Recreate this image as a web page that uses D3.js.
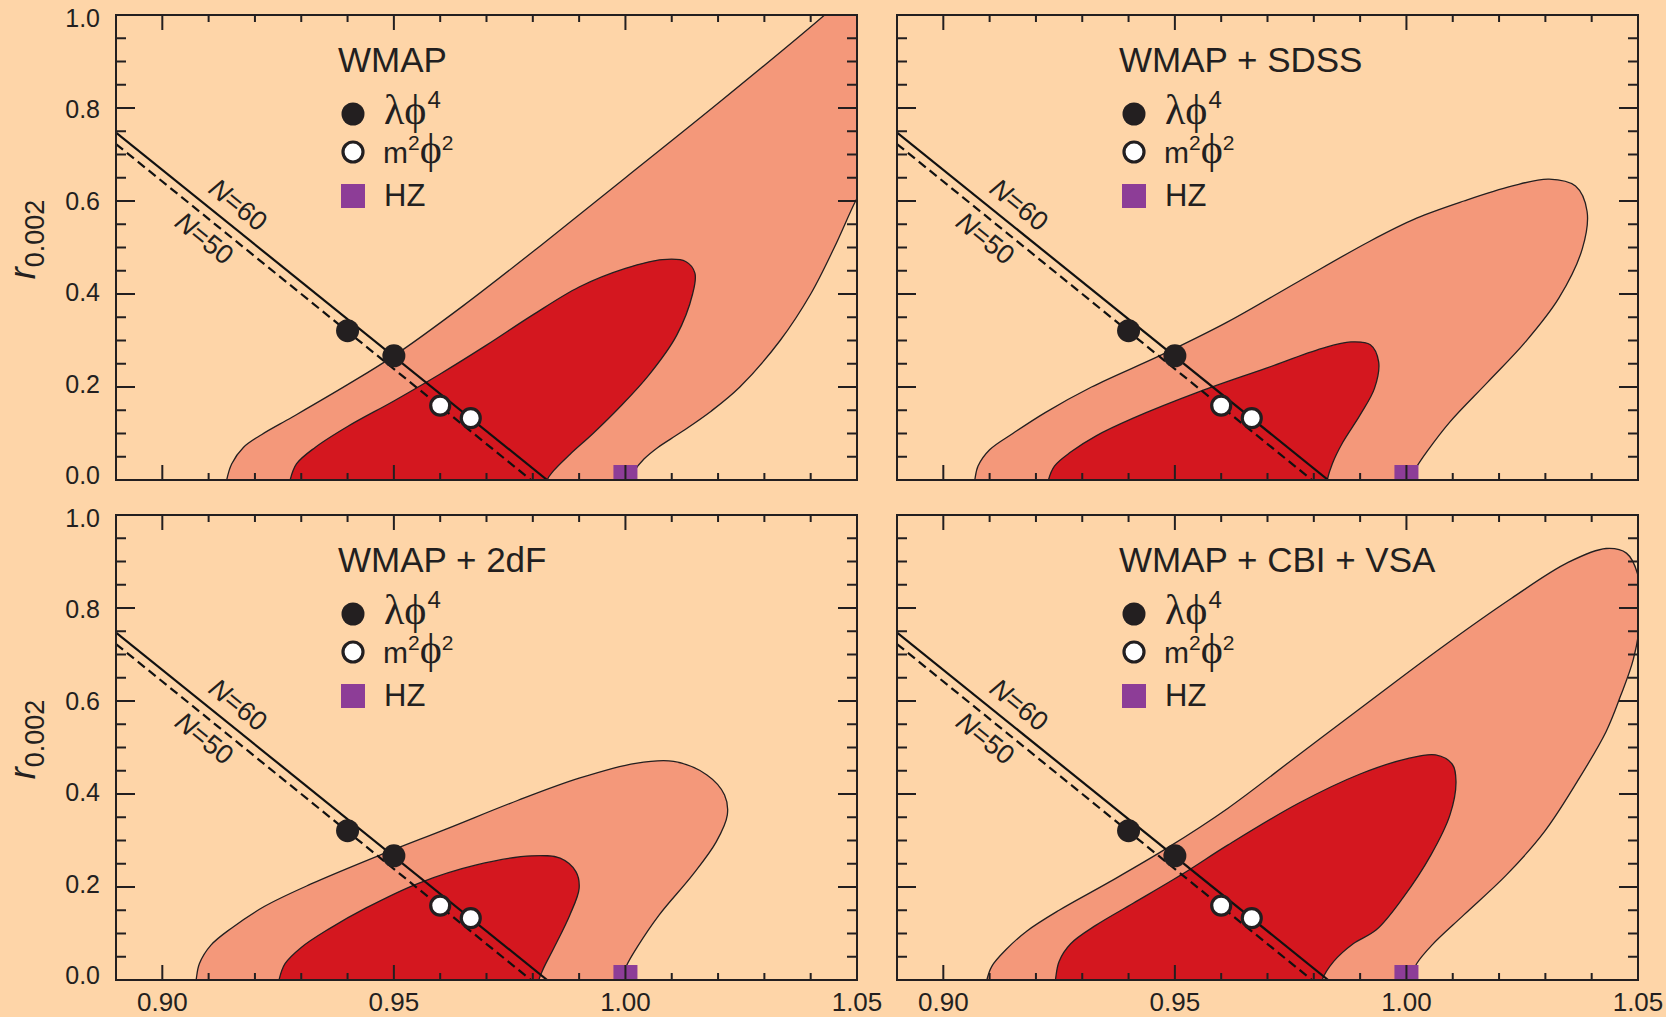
<!DOCTYPE html>
<html><head><meta charset="utf-8">
<script src="https://cdn.jsdelivr.net/npm/d3@7"></script>
<style>html,body{margin:0;padding:0;background:#FED5A8;} svg{display:block;}</style>
</head><body><svg id="c" width="1666" height="1017"></svg>
<script>
// ---------------- data ----------------
const titles = ['WMAP', 'WMAP + SDSS', 'WMAP + 2dF', 'WMAP + CBI + VSA'];
const xTickValues = [0.90, 0.95, 1.00, 1.05];
const xTickLabels = ['0.90', '0.95', '1.00', '1.05'];
const yTickValues = [0, 0.2, 0.4, 0.6, 0.8, 1.0];
const yTickLabels = ['0.0', '0.2', '0.4', '0.6', '0.8', '1.0'];
const lambdaPhi4 = [[0.940, 0.321], [0.950, 0.267]];
const m2Phi2 = [[0.960, 0.160], [0.9666, 0.133]];
const hzPoint = [1.000, 0];
const lineN60 = [[0.89, 0.747], [0.9831, 0]];
const lineN50 = [[0.89, 0.7226], [0.9796, 0]];
const labelN60 = [0.9161, 0.588];
const labelN50 = [0.9088, 0.516];

// 95% (outer) and 68% (inner) contours, [n_s, r]
const wmap95 = [[0.9139,0],[0.9150,0.035],[0.9175,0.070],[0.9215,0.098],[0.9280,0.135],[0.9400,0.205],
  [0.9500,0.267],[0.9650,0.375],[0.9818,0.505],[1.0000,0.650],[1.0200,0.810],[1.0430,1.000],
  [1.0480,1.045],[1.0600,1.060],[1.0600,0.720],[1.0525,0.650],
  [1.0497,0.600],[1.0451,0.500],[1.0400,0.400],[1.0334,0.300],[1.0247,0.200],[1.0185,0.148],[1.0119,0.102],
  [1.0070,0.070],[1.0040,0.045],[1.0020,0.020],[1.0012,0]];
const wmap68 = [[0.9276,0],[0.9290,0.035],[0.9330,0.070],[0.9400,0.115],[0.9500,0.170],[0.9600,0.228],
  [0.9700,0.290],[0.9800,0.355],[0.9900,0.415],[1.0000,0.455],[1.0080,0.474],[1.0130,0.470],[1.0150,0.445],
  [1.0145,0.400],[1.0110,0.310],[1.0050,0.225],[0.9989,0.158],[0.9930,0.100],[0.9880,0.055],[0.9845,0.020],
  [0.9831,0]];
const sdss95 = [[0.9068,0],[0.9075,0.030],[0.9100,0.065],[0.9150,0.100],[0.9220,0.145],[0.9320,0.200],
  [0.9471,0.269],[0.9614,0.340],[0.9767,0.427],[0.9920,0.513],[1.0022,0.563],[1.0124,0.600],[1.0227,0.632],
  [1.0308,0.647],[1.0365,0.632],[1.0390,0.578],[1.0380,0.498],[1.0329,0.391],[1.0257,0.297],[1.0176,0.211],
  [1.0094,0.125],[1.0045,0.062],[1.0020,0.025],[1.0007,0]];
const sdss68 = [[0.9227,0],[0.9240,0.030],[0.9275,0.060],[0.9330,0.095],[0.9410,0.133],[0.9553,0.190],
  [0.9696,0.240],[0.9818,0.283],[0.9880,0.297],[0.9922,0.291],[0.9940,0.254],[0.9931,0.197],[0.9900,0.140],
  [0.9862,0.080],[0.9840,0.035],[0.9829,0]];
const twodf95 = [[0.9073,0],[0.9080,0.035],[0.9105,0.075],[0.9150,0.112],[0.9220,0.158],[0.9320,0.206],
  [0.9471,0.269],[0.9614,0.325],[0.9767,0.386],[0.9900,0.434],[1.0022,0.466],[1.0104,0.470],[1.0176,0.441],
  [1.0214,0.398],[1.0220,0.355],[1.0196,0.297],[1.0145,0.226],[1.0073,0.140],[1.0025,0.070],[1.0002,0.030],
  [0.9992,0]];
const twodf68 = [[0.9252,0],[0.9265,0.035],[0.9300,0.070],[0.9360,0.110],[0.9440,0.155],[0.9553,0.208],
  [0.9676,0.247],[0.9798,0.267],[0.9859,0.262],[0.9893,0.233],[0.9900,0.197],[0.9880,0.140],[0.9846,0.070],
  [0.9823,0.025],[0.9813,0]];
const cbi95 = [[0.9094,0],[0.9105,0.030],[0.9135,0.065],[0.9180,0.105],[0.9250,0.150],[0.9359,0.211],
  [0.9482,0.283],[0.9614,0.369],[0.9767,0.484],[0.9920,0.599],[1.0073,0.713],[1.0227,0.821],[1.0349,0.898],
  [1.0431,0.928],[1.0475,0.918],[1.0500,0.870],[1.0505,0.780],[1.0490,0.690],[1.0462,0.610],
  [1.0431,0.534],[1.0369,0.427],[1.0298,0.319],[1.0216,0.226],[1.0124,0.140],[1.0055,0.075],[1.0022,0.035],
  [1.0007,0]];
const cbi68 = [[0.9242,0],[0.9250,0.040],[0.9275,0.078],[0.9330,0.118],[0.9410,0.165],[0.9520,0.230],
  [0.9614,0.290],[0.9767,0.380],[0.9900,0.443],[1.0002,0.476],[1.0063,0.484],[1.0099,0.464],[1.0107,0.427],
  [1.0094,0.355],[1.0053,0.269],[0.9992,0.176],[0.9935,0.108],[0.9885,0.078],[0.9843,0.040],[0.9818,0]];

const contours = [[wmap95, wmap68], [sdss95, sdss68], [twodf95, twodf68], [cbi95, cbi68]];

// ---------------- style / layout ----------------
const C = {bg:'#FED5A8', salmon:'#F4987A', red:'#D4171F', purple:'#8D3D97', ink:'#231F20'};
const PW = 741, PH = 465;
const origins = [[116,15],[897,15],[116,515],[897,515]];
const sans = '"Liberation Sans", Arial, Helvetica, sans-serif';
const serif = '"Liberation Serif", "DejaVu Serif", "Times New Roman", serif';

const svg = d3.select('#c');
svg.append('rect').attr('width',1666).attr('height',1017).attr('fill',C.bg);

const x = d3.scaleLinear().domain([0.89, 1.05]).range([0, PW]);
const y = d3.scaleLinear().domain([0, 1]).range([PH, 0]);
const line = d3.line().x(d=>x(d[0])).y(d=>y(d[1]));
const smooth = d3.line().x(d=>x(d[0])).y(d=>y(d[1])).curve(d3.curveCatmullRom.alpha(0.5));

function contourPath(pts){
  const a = pts[0], b = pts[pts.length-1];
  const full = [[a[0]-0.0005,-0.04], ...pts, [b[0]-0.0005,-0.04]];
  return smooth(full) + 'Z';
}

const xMinor = d3.range(90, 105).map(v => v/100).filter(v => Math.round(v*100)%5 !== 0);
const yMinor = d3.range(1, 20).map(v => v/20).filter(v => Math.round(v*20)%4 !== 0);

origins.forEach((o, i) => {
  const g = svg.append('g').attr('transform', `translate(${o[0]},${o[1]})`);
  const cid = 'clip'+i;
  g.append('clipPath').attr('id', cid).append('rect').attr('width', PW).attr('height', PH);
  g.append('rect').attr('width', PW).attr('height', PH).attr('fill', C.bg);

  const plot = g.append('g').attr('clip-path', `url(#${cid})`);
  const [outer, inner] = contours[i];
  plot.append('path').attr('d', contourPath(outer)).attr('fill', C.salmon)
    .attr('stroke', C.ink).attr('stroke-width', 1.3);
  plot.append('path').attr('d', contourPath(inner)).attr('fill', C.red)
    .attr('stroke', C.ink).attr('stroke-width', 1.3);

  // HZ point
  plot.append('rect').attr('x', x(hzPoint[0]) - 12).attr('y', y(hzPoint[1]) - 15)
    .attr('width', 24).attr('height', 15).attr('fill', C.purple);

  // N lines
  plot.append('path').attr('d', line(lineN60)).attr('stroke', '#111').attr('stroke-width', 2.2).attr('fill','none');
  plot.append('path').attr('d', line(lineN50)).attr('stroke', '#111').attr('stroke-width', 2.2)
    .attr('stroke-dasharray', '9,5').attr('fill','none');

  const ang = Math.atan2(y(lineN60[1][1]) - y(lineN60[0][1]), x(lineN60[1][0]) - x(lineN60[0][0])) * 180 / Math.PI;
  [[labelN60, '60'], [labelN50, '50']].forEach(([p, n]) => {
    const t = g.append('text')
      .attr('transform', `translate(${x(p[0])},${y(p[1])}) rotate(${ang})`)
      .attr('text-anchor', 'middle').attr('dominant-baseline', 'middle')
      .attr('font-family', sans).attr('font-size', 27).attr('fill', C.ink);
    t.append('tspan').attr('font-style', 'italic').text('N');
    t.append('tspan').text('=' + n);
  });

  // model points
  plot.selectAll('.lp').data(lambdaPhi4).join('circle')
    .attr('cx', d=>x(d[0])).attr('cy', d=>y(d[1])).attr('r', 11.5).attr('fill', C.ink);
  plot.selectAll('.mp').data(m2Phi2).join('circle')
    .attr('cx', d=>x(d[0])).attr('cy', d=>y(d[1])).attr('r', 9.5)
    .attr('fill', '#fff').attr('stroke', C.ink).attr('stroke-width', 3.2);

  // title + legend
  g.append('text').attr('x', 222).attr('y', 57).attr('font-family', sans).attr('font-size', 35)
    .attr('fill', C.ink).text(titles[i]);
  g.append('circle').attr('cx', 237).attr('cy', 99).attr('r', 11.5).attr('fill', C.ink);
  g.append('circle').attr('cx', 237).attr('cy', 137).attr('r', 10).attr('fill', '#fff')
    .attr('stroke', C.ink).attr('stroke-width', 3.2);
  g.append('rect').attr('x', 225).attr('y', 169).attr('width', 24).attr('height', 24).attr('fill', C.purple);

  const t1 = g.append('text').attr('x', 268).attr('y', 109).attr('fill', C.ink);
  t1.append('tspan').attr('font-family', serif).attr('font-size', 42).text('λϕ');
  t1.append('tspan').attr('font-family', sans).attr('font-size', 24).attr('dy', -16).attr('dx', 1).text('4');
  const t2 = g.append('text').attr('x', 267).attr('y', 148).attr('fill', C.ink);
  t2.append('tspan').attr('font-family', sans).attr('font-size', 30).text('m');
  t2.append('tspan').attr('font-family', sans).attr('font-size', 21).attr('dy', -13).text('2');
  t2.append('tspan').attr('font-family', serif).attr('font-size', 42).attr('dy', 13).text('ϕ');
  t2.append('tspan').attr('font-family', sans).attr('font-size', 21).attr('dy', -13).text('2');
  g.append('text').attr('x', 268).attr('y', 191).attr('font-family', sans).attr('font-size', 31)
    .attr('fill', C.ink).text('HZ');

  // ticks (inward, all four sides)
  const tk = g.append('g').attr('stroke', C.ink).attr('stroke-width', 2);
  const xt = [...xMinor.map(v=>[v,7]), ...xTickValues.slice(0,3).map(v=>[v,15])];
  xt.forEach(([v,l]) => {
    tk.append('line').attr('x1', x(v)).attr('x2', x(v)).attr('y1', PH).attr('y2', PH-l);
    tk.append('line').attr('x1', x(v)).attr('x2', x(v)).attr('y1', 0).attr('y2', l);
  });
  const yt = [...yMinor.map(v=>[v,10]), ...yTickValues.slice(1,5).map(v=>[v,19])];
  yt.forEach(([v,l]) => {
    tk.append('line').attr('y1', y(v)).attr('y2', y(v)).attr('x1', 0).attr('x2', l);
    tk.append('line').attr('y1', y(v)).attr('y2', y(v)).attr('x1', PW).attr('x2', PW-l);
  });
  g.append('rect').attr('width', PW).attr('height', PH).attr('fill', 'none')
    .attr('stroke', C.ink).attr('stroke-width', 2);

  // tick labels
  if (i % 2 === 0) {
    yTickValues.forEach((v, k) => {
      g.append('text').attr('x', -16).attr('y', y(v) - 5 + 8*v).attr('text-anchor', 'end')
        .attr('dominant-baseline', 'central').attr('font-family', sans).attr('font-size', 25)
        .attr('fill', C.ink).text(yTickLabels[k]);
    });
    const yl = g.append('text')
      .attr('transform', `translate(-81,${PH/2 - 8}) rotate(-90)`)
      .attr('text-anchor', 'middle').attr('fill', C.ink).attr('font-family', sans);
    yl.append('tspan').attr('font-style', 'italic').attr('font-size', 36).text('r');
    yl.append('tspan').attr('font-size', 27).attr('dy', 9).text('0.002');
  }
  if (i >= 2) {
    xTickValues.forEach((v, k) => {
      g.append('text').attr('x', x(v)).attr('y', PH + 31).attr('text-anchor', 'middle')
        .attr('font-family', sans).attr('font-size', 26).attr('fill', C.ink).text(xTickLabels[k]);
    });
  }
});
</script></body></html>
